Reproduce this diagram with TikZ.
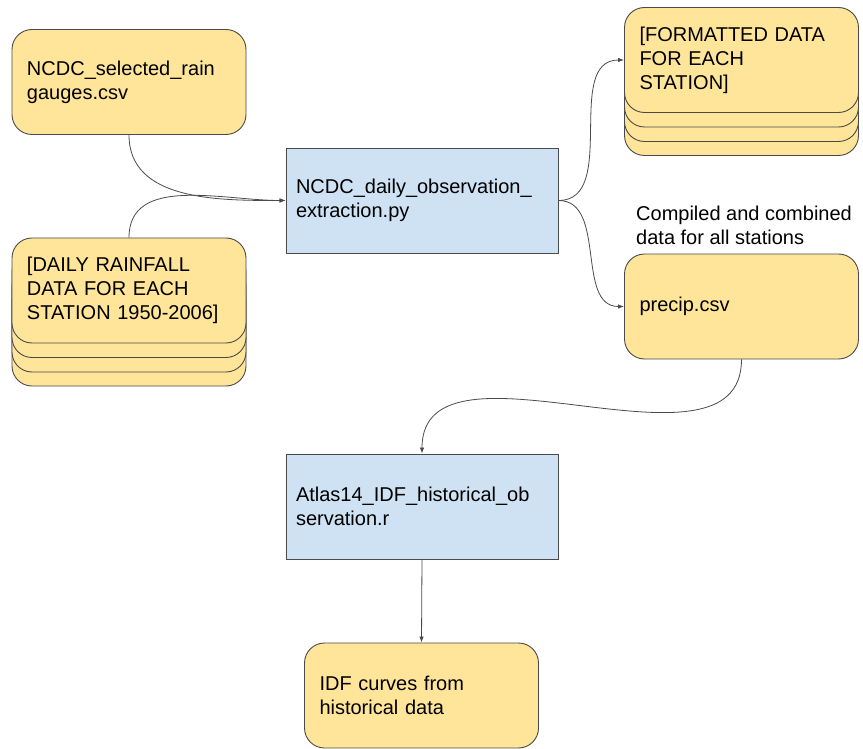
\documentclass[tikz,border=0pt]{standalone}
\usepackage{fontspec}
\setmainfont{Liberation Sans}
\usetikzlibrary{arrows.meta,shadows}
\definecolor{DataYellow}{HTML}{FFE599}
\definecolor{ScriptBlue}{HTML}{CFE2F3}
\definecolor{EdgeGray}{HTML}{4A4A4A}

\begin{document}
\begin{tikzpicture}[
    x=1pt, y=-1pt,
    databox/.style={
        rectangle,
        rounded corners=20pt,
        draw=EdgeGray,
        fill=DataYellow,
        line width=0.9pt,
        minimum width=234pt,
        minimum height=105pt,
        text width=204pt,
        align=left,
        font=\fontsize{20}{24}\selectfont
    },
    stackbox/.style={
        databox,
        copy shadow={shadow xshift=0pt, shadow yshift=-43pt},
        copy shadow={shadow xshift=0pt, shadow yshift=-29pt},
        copy shadow={shadow xshift=0pt, shadow yshift=-14.5pt}
    },
    scriptbox/.style={
        rectangle,
        draw=EdgeGray,
        fill=ScriptBlue,
        line width=0.9pt,
        minimum width=272pt,
        minimum height=105pt,
        text width=252pt,
        align=left,
        font=\fontsize{20}{24}\selectfont
    },
    flow/.style={
        draw=EdgeGray,
        line width=0.8pt,
        -{Latex[length=6pt,width=4.5pt]}
    }
]
\useasboundingbox (0,0) rectangle (863,749);

% Input files
\node[databox] (gauges) at (129,82)
      {NCDC\_selected\_rain\\gauges.csv};

\node[stackbox] (rain) at (129,290.5)
      {[DAILY RAINFALL\\DATA FOR EACH\\STATION 1950-2006]};

% Extraction script
\node[scriptbox] (extract) at (422,200.5)
      {NCDC\_daily\_observation\_\\extraction.py};

% Outputs of extraction
\node[stackbox] (formatted) at (741.5,60)
      {[FORMATTED DATA\\FOR EACH\\STATION]};

\node[databox] (precip) at (741.5,306.5)
      {precip.csv};

\node[align=left, anchor=west, inner sep=0pt,
      font=\fontsize{20}{24}\selectfont] (precipnote) at (636,225)
      {Compiled and combined\\data for all stations};

% IDF script and result
\node[scriptbox] (atlas) at (422,506.5)
      {Atlas14\_IDF\_historical\_ob\\servation.r};

\node[databox] (idf) at (421.5,695.5)
      {IDF curves from\\historical data};

% Connectors
\draw[flow] (gauges.south) to[out=-90, in=180] (extract.west);
\draw[flow] (rain.north) to[out=90, in=180] (extract.west);
\draw[flow] (extract.east) to[out=0, in=180] (formatted.west);
\draw[flow] (extract.east) to[out=0, in=180] (precip.west);
\draw[flow] (precip.south) to[out=-90, in=90] (atlas.north);
\draw[flow] (atlas.south) -- (idf.north);

\end{tikzpicture}
\end{document}
